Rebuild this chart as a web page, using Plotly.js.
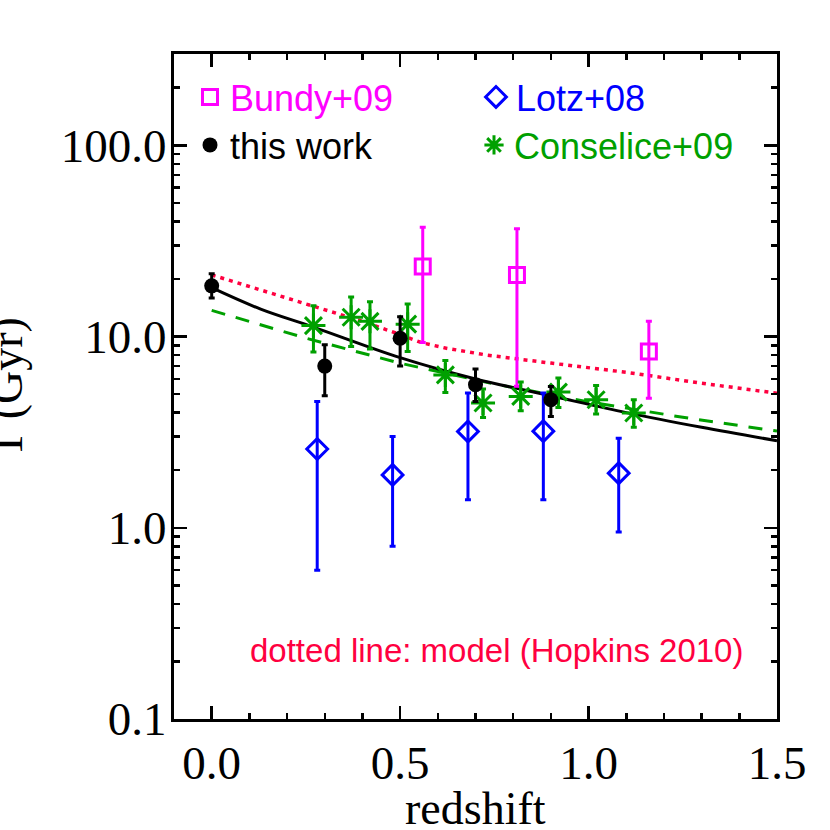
<!DOCTYPE html>
<html>
<head>
<meta charset="utf-8">
<script src="https://cdn.plot.ly/plotly-3.0.1.min.js"></script>
<style>html,body{margin:0;padding:0;background:#fff;}#chart{width:830px;height:830px;}</style>
</head>
<body>
<div id="chart"></div>
<script>
// ---- data ----
const zThis = [0.0, 0.30, 0.50, 0.70, 0.90];
const tThis = [18.4, 7.0, 9.8, 5.6, 4.67];
const tThisHi = [21.3, 9.05, 12.7, 6.76, 5.48];
const tThisLo = [15.9, 4.9, 7.0, 4.57, 3.82];

const zBundy = [0.56, 0.81, 1.16];
const tBundy = [23.2, 21.0, 8.35];
const tBundyHi = [37.3, 36.6, 12.0];
const tBundyLo = [9.3, 5.5, 4.76];

const zLotz = [0.28, 0.48, 0.68, 0.88, 1.08];
const tLotz = [2.58, 1.89, 3.19, 3.2, 1.93];
const tLotzHi = [4.57, 3.0, 5.06, 5.06, 2.94];
const tLotzLo = [0.60, 0.80, 1.40, 1.40, 0.95];

const zCons = [0.27, 0.37, 0.42, 0.52, 0.62, 0.72, 0.82, 0.92, 1.02, 1.12];
const tCons = [11.4, 12.6, 12.0, 11.6, 6.3, 4.49, 4.86, 5.12, 4.67, 3.98];
const tConsHi = [14.5, 16.1, 15.2, 14.8, 7.5, 5.31, 5.78, 6.06, 5.54, 4.67];
const tConsLo = [8.3, 8.87, 8.6, 8.35, 5.1, 3.77, 4.09, 4.26, 3.93, 3.35];

const zFit = [0, 0.13, 0.27, 0.5, 0.7, 0.9, 1.1, 1.3, 1.5];
const tFit = [18.0, 13.9, 11.2, 7.75, 6.0, 4.9, 4.0, 3.35, 2.85];

const zConsFit = [0, 0.25, 0.5, 0.75, 1.0, 1.25, 1.5];
const tConsFit = [13.7, 9.8, 7.25, 5.65, 4.55, 3.78, 3.2];

const zModel = [0, 0.16, 0.33, 0.40, 0.49, 0.556, 0.62, 0.73, 0.9, 1.1, 1.3, 1.5];
const tModel = [21.0, 16.8, 13.3, 12.0, 10.4, 9.3, 8.7, 8.0, 7.26, 6.5, 5.7, 5.05];

const xTickVals = [0, 0.5, 1.0, 1.5];
const xTickText = ['0.0', '0.5', '1.0', '1.5'];
const yTickVals = [0.1, 1, 10, 100];
const yTickText = ['0.1', '1.0', '10.0', '100.0'];

// ---- styling ----
const MAG = '#ff00ff', BLUE = '#0000ff', GREEN = '#00a000', RED = '#ff0040', BLACK = '#000000';
const serif = 'Liberation Serif, Times New Roman, serif';
const sans = 'Liberation Sans, Arial, Helvetica, sans-serif';

function errObj(v, hi, lo, color) {
  return { type: 'data', symmetric: false,
           array: hi.map((h, i) => h - v[i]), arrayminus: lo.map((l, i) => v[i] - l),
           color: color, thickness: 3, width: 3, visible: true };
}

const traces = [
  { x: zModel, y: tModel, mode: 'lines', line: { color: RED, width: 3.5, dash: '4px,5px' }, showlegend: false, hoverinfo: 'skip' },
  { x: zConsFit, y: tConsFit, mode: 'lines', line: { color: GREEN, width: 3, dash: '14px,11px' }, showlegend: false, hoverinfo: 'skip' },
  { x: zFit, y: tFit, mode: 'lines', line: { color: BLACK, width: 3, shape: 'spline' }, showlegend: false, hoverinfo: 'skip' },
  { x: zLotz, y: tLotz, mode: 'markers', name: 'Lotz+08', legend: 'legend3',
    marker: { symbol: 'diamond-open', size: 16, color: BLUE, line: { color: BLUE, width: 3 } },
    error_y: errObj(tLotz, tLotzHi, tLotzLo, BLUE) },
  { x: zBundy, y: tBundy, mode: 'markers', name: 'Bundy+09', legend: 'legend',
    marker: { symbol: 'square-open', size: 15, color: MAG, line: { color: MAG, width: 3 } },
    error_y: errObj(tBundy, tBundyHi, tBundyLo, MAG) },
  { x: zCons, y: tCons, mode: 'markers', name: 'Conselice+09', legend: 'legend4',
    marker: { symbol: 'asterisk-open', size: 20, color: GREEN, line: { color: GREEN, width: 3 } },
    error_y: errObj(tCons, tConsHi, tConsLo, GREEN) },
  { x: zThis, y: tThis, mode: 'markers', name: 'this work', legend: 'legend2',
    marker: { symbol: 'circle', size: 15, color: BLACK },
    error_y: errObj(tThis, tThisHi, tThisLo, BLACK) }
];

const xMinor = [];
for (let i = -1; i <= 15; i++) { if (i % 5 !== 0) xMinor.push(i / 10); }
const yMinor = [];
[0.1, 1, 10, 100].forEach(d => { for (let k = 2; k <= 9; k++) { if (d * k <= 300) yMinor.push(d * k); } });

function legendAt(px, py, color) {
  return { x: (px - 174) / 603, y: (719 - py) / 665, xanchor: 'left', yanchor: 'top',
           bgcolor: 'rgba(0,0,0,0)', borderwidth: 0,
           font: { family: sans, size: 36, color: color }, itemsizing: 'trace' };
}

const axisCommon = {
  showline: true, linecolor: BLACK, linewidth: 3, mirror: 'ticks',
  ticks: 'inside', ticklen: 13, tickwidth: 2.5, tickcolor: BLACK,
  showgrid: false, zeroline: false, tickmode: 'array',
  tickfont: { family: serif, size: 47, color: BLACK }
};

const layout = {
  width: 830, height: 830,
  margin: { l: 174, r: 53, t: 54, b: 111, pad: 0 },
  paper_bgcolor: '#ffffff', plot_bgcolor: '#ffffff',
  showlegend: true,
  xaxis: Object.assign({}, axisCommon, {
    range: [-0.1, 1.5], tickvals: xTickVals, ticktext: xTickText, ticklabelstandoff: 1,
    minor: { tickmode: 'array', tickvals: xMinor, ticks: 'inside', ticklen: 6, tickwidth: 2.5, tickcolor: BLACK, showgrid: false }
  }),
  yaxis: Object.assign({}, axisCommon, {
    type: 'log', range: [-1, Math.log10(300)], tickvals: yTickVals, ticktext: yTickText, ticklabelstandoff: -5,
    minor: { tickmode: 'array', tickvals: yMinor, ticks: 'inside', ticklen: 6, tickwidth: 2.5, tickcolor: BLACK, showgrid: false }
  }),
  legend: legendAt(190, 67, MAG),
  legend2: legendAt(190, 115, BLACK),
  legend3: legendAt(476, 67, BLUE),
  legend4: legendAt(474, 115, GREEN),
  annotations: [
    { text: 'redshift', xref: 'paper', yref: 'paper', x: 0.5, y: (719 - 808) / 665,
      xanchor: 'center', yanchor: 'middle', showarrow: false,
      font: { family: serif, size: 46, color: BLACK } },
    { text: 'T (Gyr)', xref: 'paper', yref: 'paper', x: (6 - 174) / 603, y: (719 - 388) / 665,
      xanchor: 'center', yanchor: 'middle', showarrow: false, textangle: -90,
      font: { family: serif, size: 46, color: BLACK } },
    { text: 'dotted line: model (Hopkins 2010)', xref: 'paper', yref: 'paper',
      x: (496 - 174) / 603, y: (719 - 650) / 665, xanchor: 'center', yanchor: 'middle', showarrow: false,
      font: { family: sans, size: 33, color: RED } }
  ]
};

Plotly.newPlot('chart', traces, layout, { staticPlot: true, displayModeBar: false });
</script>
</body>
</html>
